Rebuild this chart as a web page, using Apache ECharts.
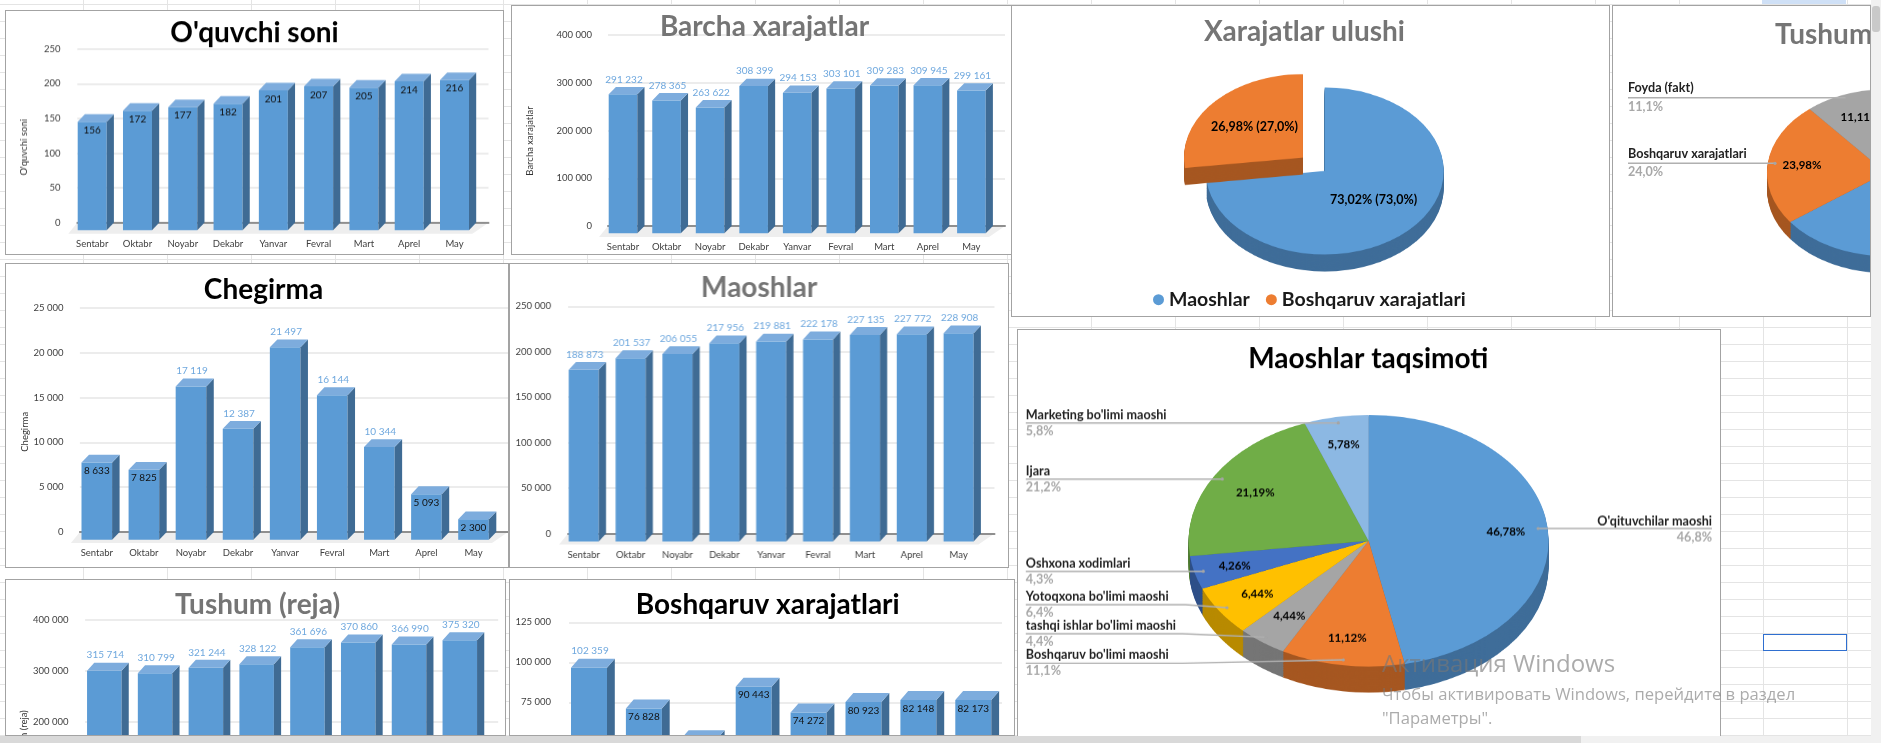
<!DOCTYPE html>
<html><head><meta charset="utf-8">
<style>
html,body{margin:0;padding:0;width:1881px;height:743px;overflow:hidden;background:#fff;}
#sheet{position:absolute;left:0;top:0;width:1881px;height:743px;
 background-image:linear-gradient(to right,#e4e4e4 1px,transparent 1px),linear-gradient(to bottom,#e4e4e4 1px,transparent 1px);
 background-size:84px 17px;background-position:-1px 4px;}
.panel{position:absolute;overflow:hidden;background:#fff;}
.panel>.layer{position:absolute;left:0;top:0;}
.frame{position:absolute;inset:0;border:1.5px solid #a3a3a3;box-sizing:border-box;pointer-events:none;}
.bar{position:absolute;}
.wm{position:absolute;left:1382px;color:rgba(120,120,120,.62);font-family:"Open Sans",sans-serif;white-space:nowrap;}
</style>
<script src="https://cdn.jsdelivr.net/npm/echarts@6/dist/echarts.min.js"></script>
</head><body>
<div id="sheet"></div>
<div class="bar" style="left:1762px;top:0;width:84px;height:4px;background:#cfe0f6"></div>
<div class="bar" style="left:1763px;top:634px;width:84px;height:17px;border:1.5px solid #2f6fd0;box-sizing:border-box"></div>
<div id="root"></div>
<div class="wm" style="top:646px;font-size:24px">Активация Windows</div>
<div class="wm" style="top:682px;font-size:16.6px">Чтобы активировать Windows, перейдите в раздел</div>
<div class="wm" style="top:706px;font-size:16.6px">"Параметры".</div>
<div class="bar" style="left:1871px;top:0;width:10px;height:743px;background:#f1f1f1"></div>
<div class="bar" style="left:1872px;top:6px;width:8px;height:26px;background:#c9c9c9;border-radius:3px"></div>
<div class="bar" style="left:0;top:736px;width:1881px;height:7px;background:#f1f1f1"></div>
<div class="bar" style="left:0;top:736px;width:1581px;height:7px;background:#d9d9d9"></div>
<script>
// ---------- data ----------
const months = ['Sentabr','Oktabr','Noyabr','Dekabr','Yanvar','Fevral','Mart','Aprel','May'];
const monthsShort = ['Sentabr','Oktabr','Noyabr','Dekabr','Yanvar','Fevral','Mart','Aprel'];
const studentCounts = [156,172,177,182,201,207,205,214,216];
const allExpenses = [291232,278365,263622,308399,294153,303101,309283,309945,299161];
const discounts = [8633,7825,17119,12387,21497,16144,10344,5093,2300];
const salaries = [188873,201537,206055,217956,219881,222178,227135,227772,228908];
const plannedIncome = [315714,310799,321244,328122,361696,370860,366990,375320];
const managementExpenses = [102359,76828,57567,90443,74272,80923,82148,82173];

const shareNames = ['Maoshlar','Boshqaruv xarajatlari'];
const shareValues = [73.02,26.98];
const incomeNames = ['Maoshlar','Boshqaruv xarajatlari','Foyda (fakt)'];
const incomeValues = [64.91,23.98,11.11];
const salaryNames = ["O'qituvchilar maoshi","Boshqaruv bo'limi maoshi","tashqi ishlar bo'limi maoshi","Yotoqxona bo'limi maoshi","Oshxona xodimlari","Ijara","Marketing bo'limi maoshi"];
const salaryValues = [46.78,11.12,4.44,6.44,4.26,21.19,5.78];

// ---------- styles ----------
const FONT='Lato, "Noto Sans", sans-serif';
const BLUE='#5b9bd5',BLUE_TOP='#7dacdd',BLUE_SIDE='#3f6b94',LABEL_BLUE='#6fa8de';
const BLACK_T='#000000',GRAY_T='#757575';
const TITLE_SIZE=28;
const PIE_COLORS=['#5b9bd5','#ed7d31','#a5a5a5','#ffc000','#4472c4','#70ad47','#8cb8e3'];
const PIE_SIDES=['#3f6d99','#a65721','#757575','#b88a00','#2f5089','#4e7a31','#6285a8'];
const spaced=v=>String(v).replace(/\B(?=(\d{3})+(?!\d))/g,' ');
const comma=(v,d)=>v.toFixed(d).replace('.',',');
const root=document.getElementById('root');

function makePanel(box){
  const p=document.createElement('div');p.className='panel';
  p.style.cssText=`left:${box[0]}px;top:${box[1]}px;width:${box[2]-box[0]}px;height:${box[3]-box[1]}px`;
  root.appendChild(p);return p;
}
function addFrame(p){const f=document.createElement('div');f.className='frame';p.appendChild(f);}
function makeLayer(p,w,h,css){
  const d=document.createElement('div');d.className='layer';
  d.style.width=w+'px';d.style.height=h+'px';if(css)d.style.cssText+=css;
  p.appendChild(d);return echarts.init(d,null,{width:w,height:h});
}

// ---------- 3D bar panels ----------
const barPanels=[
 {box:[4.5,10,503.6,254.7],title:"O'quvchi soni",tc:[254,33],tcol:BLACK_T,axisTitle:"O'quvchi soni",at:[23,146.7],
  cats:months,data:studentCounts,max:250,step:50,first:91.7,last:454,y0:221.7,yTop:48.7,line:[76.8,488],labelRight:60,barW:29,dx:7.2,dy:7.5,inside:1e9,xLabelY:243},
 {box:[511,5,1014,255],title:'Barcha xarajatlar',tc:[764.5,27],tcol:GRAY_T,axisTitle:'Barcha xarajatlar',at:[530,141],
  cats:months,data:allExpenses,max:400000,step:100000,first:623,last:971.4,y0:226,yTop:35,line:[608,1005],labelRight:592,barW:28.6,dx:7.2,dy:7.3,inside:0,xLabelY:247},
 {box:[4.5,262.7,509,568],title:'Chegirma',tc:[263,290],tcol:BLACK_T,axisTitle:'Chegirma',at:[24,431.5],
  cats:months,data:discounts,max:25000,step:5000,first:96.3,last:473,y0:531.7,yTop:307.7,line:[79.4,507.5],labelRight:63,barW:30.6,dx:7.5,dy:7.8,inside:10000,xLabelY:553},
 {box:[509,262.7,1008.5,568],title:'Maoshlar',tc:[758.6,288],tcol:GRAY_T,
  cats:months,data:salaries,max:250000,step:50000,first:583.6,last:957.7,y0:533.3,yTop:306,line:[568,993.5],labelRight:551,barW:30,dx:7.2,dy:7.8,inside:0,xLabelY:555},
 {box:[4.5,579.3,505.5,736],chartH:280,title:'Tushum (reja)',tc:[257,605],tcol:GRAY_T,axisTitle:'Tushum (reja)',at:[23,738],
  cats:monthsShort,data:plannedIncome,max:400000,step:100000,first:103.8,last:459.3,y0:824,yTop:620,line:[84.6,497.7],labelRight:68,barW:34.5,dx:7.2,dy:8,inside:0,xLabelY:846},
 {box:[509,579.3,1015,736],chartH:280,title:'Boshqaruv xarajatlari',tc:[767.7,605],tcol:BLACK_T,
  cats:monthsShort,data:managementExpenses,max:125000,step:25000,first:589,last:973.3,y0:822.7,yTop:622.7,line:[569,1002],labelRight:551,barW:36,dx:7.8,dy:9,inside:100000,xLabelY:845}
];

barPanels.forEach(c=>{
  const [bx,by,bx2,by2]=c.box,W=bx2-bx,H=c.chartH||by2-by;
  const p=makePanel(c.box);
  const chart=makeLayer(p,W,H);
  const n=c.cats.length,stepX=(c.last-c.first)/(n-1);
  const gridTop=c.yTop-by,gridH=c.y0-c.yTop;
  const graphic=[
    {type:'polygon',silent:true,z:-1,shape:{points:[[c.line[0]-bx,c.y0-by],[c.line[1]-bx,c.y0-by],[c.line[1]-bx-16,c.y0-by+11],[c.line[0]-bx-9,c.y0-by+11]]},style:{fill:'#eeeeee'}}
  ];
  if(c.axisTitle)graphic.push({type:'text',silent:true,x:c.at[0]-bx,y:c.at[1]-by,rotation:Math.PI/2,
    style:{text:c.axisTitle,font:'9.5px '+FONT,fill:'#333',align:'center',verticalAlign:'middle'}});
  chart.setOption({
    animation:false,
    title:{text:c.title,left:c.tc[0]-bx,top:c.tc[1]-by,textAlign:'center',textVerticalAlign:'middle',padding:0,
      textStyle:{fontFamily:FONT,fontWeight:700,fontSize:TITLE_SIZE,color:c.tcol}},
    grid:[
      {left:c.first-stepX/2-bx,width:stepX*n,top:gridTop,height:gridH},
      {left:c.line[0]-bx,width:c.line[1]-c.line[0],top:gridTop,height:gridH}
    ],
    xAxis:[
      {type:'category',gridIndex:0,data:c.cats,axisLine:{show:false},axisTick:{show:false},
       axisLabel:{interval:0,margin:c.xLabelY-c.y0-5.5,fontFamily:FONT,fontSize:9.5,color:'#404040'}},
      {type:'category',gridIndex:1,data:c.cats,axisLine:{show:true,lineStyle:{color:'#8f8f8f',width:2}},axisTick:{show:false},axisLabel:{show:false}}
    ],
    yAxis:[
      {type:'value',gridIndex:0,min:0,max:c.max,interval:c.step,show:false},
      {type:'value',gridIndex:1,min:0,max:c.max,interval:c.step,axisLine:{show:false},axisTick:{show:false},
       splitLine:{lineStyle:{color:'#e6e6e6',width:1.6}},
       axisLabel:{margin:c.line[0]-c.labelRight,fontFamily:FONT,fontSize:9.5,color:'#404040',formatter:v=>spaced(v)}}
    ],
    graphic,
    series:[{type:'custom',xAxisIndex:0,yAxisIndex:0,clip:false,silent:true,
      data:c.data.map((v,i)=>[i,v]),encode:{x:0,y:1},
      renderItem(params,api){
        const v=api.value(1),top=api.coord([api.value(0),v]),base=api.coord([api.value(0),0]);
        const l=top[0]-c.barW/2,r=top[0]+c.barW/2,ty=top[1]+c.dy,by0=base[1]+c.dy,d=c.dx,h=c.dy;
        const inside=v<c.inside;
        return {type:'group',children:[
          {type:'rect',shape:{x:l,y:ty,width:c.barW,height:by0-ty},style:{fill:BLUE}},
          {type:'polygon',shape:{points:[[r,ty],[r+d,ty-h],[r+d,by0-h],[r,by0]]},style:{fill:BLUE_SIDE}},
          {type:'polygon',shape:{points:[[l,ty],[l+d,ty-h],[r+d,ty-h],[r,ty]]},style:{fill:BLUE_TOP}},
          {type:'text',style:{text:spaced(v),x:top[0]+(inside?0:1),y:inside?ty+8.5:ty-h-7.5,align:'center',verticalAlign:'middle',
            font:'10px '+FONT,fill:inside?'#111':LABEL_BLUE}}
        ]};
      }}]
  });
  addFrame(p);
});

// ---------- 3D pie panels ----------
function pieSeries(values,names,cfg){
  const {box,cx,cy,rx,ry,depth,explode}=cfg,S=ry/rx;
  const mk=(colors,d)=>({type:'pie',silent:true,animation:false,radius:rx,startAngle:90,clockwise:true,
    center:[cx-box[0],(cy-box[1]+d)/S],avoidLabelOverlap:false,label:{show:false},labelLine:{show:false},
    selectedMode:explode?'single':false,selectedOffset:explode?explode.offset:0,
    data:values.map((v,i)=>({value:v,name:names[i],selected:!!explode&&explode.index===i,itemStyle:{color:colors[i],borderWidth:0}}))});
  const list=[];
  for(let d=depth;d>=1;d--)list.push(mk(cfg.sides,d));
  list.push(mk(cfg.colors,0));
  return list;
}
const sideColors=PIE_SIDES,topColors=PIE_COLORS;

const piePanels=[
 {box:[1011,5,1610,317],values:shareValues,names:shareNames,cx:1324.7,cy:171,rx:119,ry:83.5,depth:17,explode:{index:1,offset:29},
  colors:topColors,sides:sideColors,title:'Xarajatlar ulushi',tc:[1304.5,32],tcol:GRAY_T,innerSize:12.5,
  inner:[{text:comma(shareValues[0],2)+'% ('+comma(shareValues[0],1)+'%)',at:[1373.6,200]},{text:comma(shareValues[1],2)+'% ('+comma(shareValues[1],1)+'%)',at:[1254.5,126.7]}],
  outer:[],legend:true},
 {box:[1612,5,1871,317],values:incomeValues,names:incomeNames,cx:1886,cy:172.7,rx:119,ry:83.3,depth:17,
  colors:[PIE_COLORS[0],PIE_COLORS[1],PIE_COLORS[2]],sides:[PIE_SIDES[0],PIE_SIDES[1],PIE_SIDES[2]],title:'Tushum',tc:[1775,35],tcol:GRAY_T,titleLeft:true,innerSize:11.5,
  inner:[{text:comma(incomeValues[1],2)+'%',at:[1802,165.7]},{text:comma(incomeValues[2],2)+'%',at:[1860,117]}],
  outer:[
   {i:2,left:1628,name:88.3,line:[[1628,97.7],[1847,97.7]],val:106.7},
   {i:1,left:1628,name:154.3,line:[[1628,163.3],[1775,163.3]],val:171.7}
  ]},
 {box:[1016.7,329.3,1721,737],values:salaryValues,names:salaryNames,cx:1368.3,cy:541,rx:180,ry:125.8,depth:26,
  colors:topColors,sides:sideColors,title:'Maoshlar taqsimoti',tc:[1368,359],tcol:BLACK_T,innerSize:11.5,
  inner:[[1505.6,531.3],[1347,637.3],[1289,615.7],[1257,593.7],[1234.4,565.3],[1255,493],[1343.3,445]].map((at,i)=>({text:comma(salaryValues[i],2)+'%',at})),
  outer:[
   {i:6,left:1025.5,name:415,line:[[1025.5,423],[1338,423]],val:431},
   {i:5,left:1025.5,name:471,line:[[1025.5,479],[1222,479]],val:487},
   {i:4,left:1025.5,name:563.7,line:[[1025.5,571],[1203,571]],val:579},
   {i:3,left:1025.5,name:596.7,line:[[1025.5,604.3],[1185,604.3],[1226.7,607.3]],val:612.7},
   {i:2,left:1025.5,name:625.7,line:[[1025.5,633.3],[1182,633.3],[1265.6,636.7]],val:641},
   {i:1,left:1025.5,name:654.3,line:[[1025.5,662.7],[1182,662.7],[1343,659.3]],val:670.7},
   {i:0,right:1711.7,name:521,line:[[1711.7,528.3],[1537.8,528.3]],val:537.3}
  ]}
];

piePanels.forEach(c=>{
  const [bx,by,bx2,by2]=c.box,W=bx2-bx,H=by2-by,S=c.ry/c.rx;
  const p=makePanel(c.box);
  const pie=makeLayer(p,W,Math.ceil(H/S),'transform:scaleY('+S+');transform-origin:0 0;');
  pie.setOption({animation:false,series:pieSeries(c.values,c.names,c)});
  const overlay=makeLayer(p,W,H);
  const g=[];
  c.inner.forEach(t=>g.push({type:'text',silent:true,x:t.at[0]-bx,y:t.at[1]-by,
    style:{text:t.text,font:'700 '+c.innerSize+'px '+FONT,fill:'#000',align:'center',verticalAlign:'middle'}}));
  c.outer.forEach(o=>{
    const v=c.values[o.i],name=c.names[o.i];
    const al=o.right!==undefined?'right':'left',x=(o.right!==undefined?o.right:o.left)-bx;
    g.push({type:'polyline',silent:true,shape:{points:o.line.map(q=>[q[0]-bx,q[1]-by])},style:{stroke:'#b0b0b0',lineWidth:1.4,fill:null}});
    const e=o.line[o.line.length-1];
    g.push({type:'circle',silent:true,shape:{cx:e[0]-bx,cy:e[1]-by,r:1.6},style:{fill:'#a5a5a5'}});
    g.push({type:'text',silent:true,x,y:o.name-by,style:{text:name,font:'700 12.6px '+FONT,fill:'#222',align:al,verticalAlign:'middle'}});
    g.push({type:'text',silent:true,x,y:o.val-by,style:{text:comma(v,1)+'%',font:'700 12.6px '+FONT,fill:'#a8a8a8',align:al,verticalAlign:'middle'}});
  });
  const opt={animation:false,graphic:g,
    title:{text:c.title,left:c.tc[0]-bx,top:c.tc[1]-by,textAlign:c.titleLeft?'left':'center',textVerticalAlign:'middle',padding:0,
      textStyle:{fontFamily:FONT,fontWeight:700,fontSize:TITLE_SIZE,color:c.tcol}}};
  if(c.legend){
    opt.legend={left:1153-bx,top:301.7-by-12,icon:'circle',itemWidth:11,itemHeight:11,itemGap:16,padding:0,
      data:c.names,textStyle:{fontFamily:FONT,fontWeight:700,fontSize:19.5,color:'#1a1a1a',padding:[0,0,0,0]}};
    opt.series=[{type:'pie',radius:0,silent:true,center:[-50,-50],label:{show:false},labelLine:{show:false},
      data:c.values.map((v,i)=>({value:v,name:c.names[i],itemStyle:{color:c.colors[i]}}))}];
  }
  overlay.setOption(opt);
  addFrame(p);
});
</script>
</body></html>
